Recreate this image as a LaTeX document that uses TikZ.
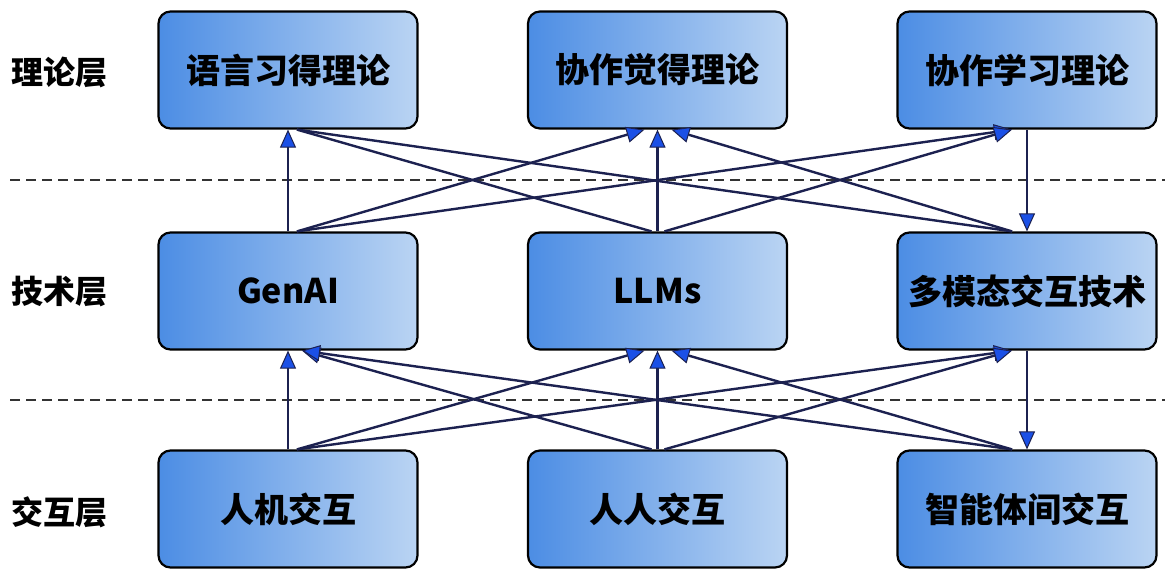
\documentclass[tikz,border=0pt]{standalone}
\usepackage{fontspec}
\setmainfont{Noto Sans CJK SC}
\usetikzlibrary{arrows.meta,calc}
\definecolor{linec}{HTML}{1C2150}
\definecolor{arrowc}{HTML}{1B50E6}
\definecolor{boxl}{HTML}{4C8DE4}
\definecolor{boxr}{HTML}{BAD4F3}
\tikzset{
  box/.style={rectangle, rounded corners=12pt, draw=black, line width=2.2pt,
    minimum width=259pt, minimum height=117pt, left color=boxl, right color=boxr,
    font=\fontsize{34}{36}\selectfont\bfseries, text=black},
  layerlab/.style={font=\fontsize{32}{34}\selectfont\bfseries, text=black},
  conn/.style={draw=linec, line width=2.4pt},
  arr/.style={conn, -{Triangle[length=18pt,width=16pt,fill=arrowc,line width=1pt]}},
  sep/.style={draw=black!80, line width=1.8pt, dash pattern=on 10pt off 6pt}
}
\begin{document}
\begin{tikzpicture}[x=1pt,y=-1pt]
\useasboundingbox (0,0) rectangle (1165,579);
\fill[white] (0,0) rectangle (1165,579);
% separators
\draw[sep] (10,180) -- (1165,180);
\draw[sep] (10,400) -- (1165,400);
% layer labels
\node[layerlab] (l1) at (60,72) {理论层};
\node[layerlab] (l2) at (60,292) {技术层};
\node[layerlab] (l3) at (60,512) {交互层};
% boxes
\node[box] (t1) at (288,70) {语言习得理论};
\node[box] (t2) at (657.5,70) {协作觉得理论};
\node[box] (t3) at (1027,70) {协作学习理论};
\node[box] (m1) at (288,291) {GenAI};
\node[box] (m2) at (657.5,291) {LLMs};
\node[box] (m3) at (1027,291) {多模态交互技术};
\node[box] (b1) at (288,509) {人机交互};
\node[box] (b2) at (657.5,509) {人人交互};
\node[box] (b3) at (1027,509) {智能体间交互};
% tech -> theory
\draw[arr] (m1.north) -- (t1.south);
\draw[arr] ($(m1.north)+(9,0)$) -- ($(t2.south)+(-13,0)$);
\draw[arr] ($(m1.north)+(9,0)$) -- ($(t3.south)+(-15,0)$);
\draw[conn] ($(m2.north)+(-6,0)$) -- ($(t1.south)+(9,0)$);
\draw[arr] (m2.north) -- (t2.south);
\draw[arr] ($(m2.north)+(7,0)$) -- ($(t3.south)+(-15,0)$);
\draw[arr] ($(m3.north)+(-15,0)$) -- ($(t2.south)+(14,0)$);
\draw[conn] ($(m3.north)+(-15,0)$) -- ($(t1.south)+(9,0)$);
\draw[arr] (t3.south) -- (m3.north);
% interaction -> tech
\draw[arr] (b1.north) -- (m1.south);
\draw[arr] ($(b1.north)+(9,0)$) -- ($(m2.south)+(-13,0)$);
\draw[arr] ($(b1.north)+(9,0)$) -- ($(m3.south)+(-15,0)$);
\draw[arr] ($(b2.north)+(-6,0)$) -- ($(m1.south)+(14,0)$);
\draw[arr] (b2.north) -- (m2.south);
\draw[arr] ($(b2.north)+(7,0)$) -- ($(m3.south)+(-15,0)$);
\draw[arr] ($(b3.north)+(-15,0)$) -- ($(m2.south)+(14,0)$);
\draw[arr] ($(b3.north)+(-15,0)$) -- ($(m1.south)+(14,0)$);
\draw[arr] (m3.south) -- (b3.north);
\end{tikzpicture}
\end{document}
